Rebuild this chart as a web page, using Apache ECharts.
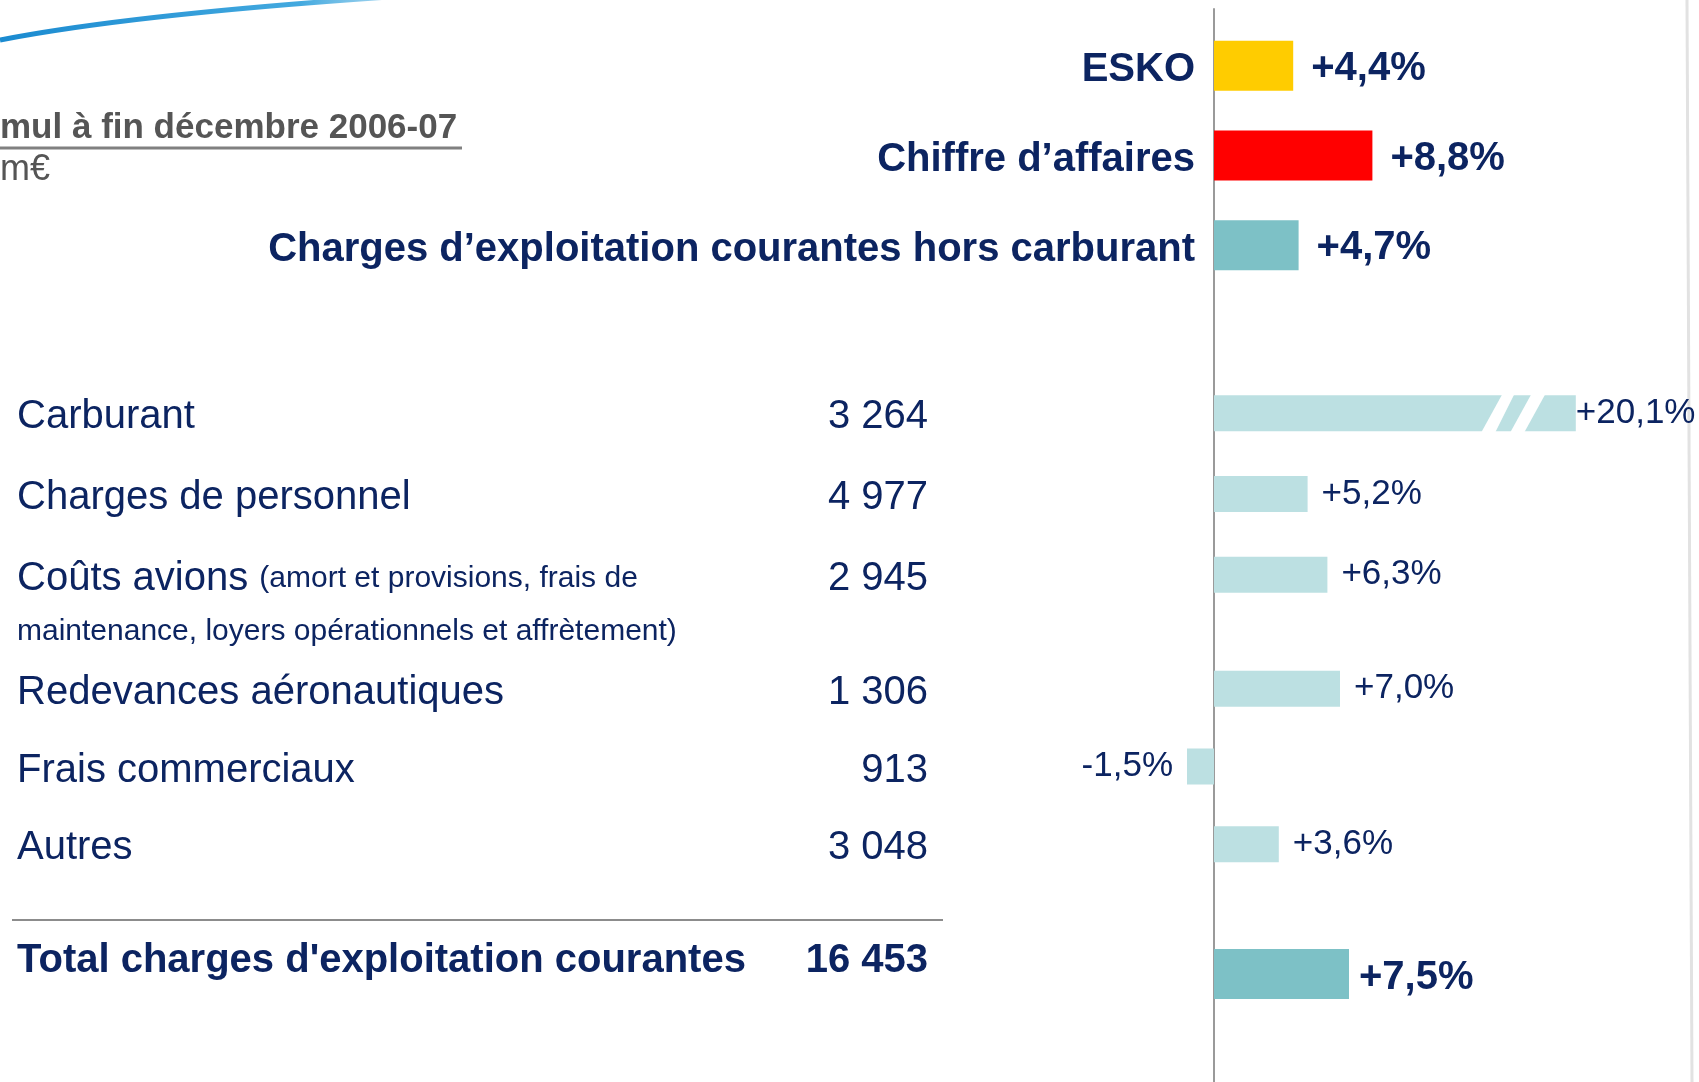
<!DOCTYPE html>
<html>
<head>
<meta charset="utf-8">
<title>Charges d'exploitation courantes</title>
<script src="https://cdn.jsdelivr.net/npm/echarts@6/dist/echarts.min.js"></script>
<style>
  html, body { margin: 0; padding: 0; background: #fff; }
  #chart { width: 1699px; height: 1082px; }
</style>
</head>
<body>
<div id="chart"></div>
<script>
const headCats = ['ESKO', 'Chiffre d’affaires', 'Charges d’exploitation courantes hors carburant'];
const headGrowth = [4.4, 8.8, 4.7];

const costCats = ['Carburant', 'Charges de personnel', 'Coûts avions', 'Redevances aéronautiques', 'Frais commerciaux', 'Autres'];
const costAmounts = [3264, 4977, 2945, 1306, 913, 3048];
const costGrowth = [20.1, 5.2, 6.3, 7.0, -1.5, 3.6];
const costNoteCat = 'Coûts avions';
const costNote = ['(amort et provisions, frais de', 'maintenance, loyers opérationnels et affrètement)'];

const totalCats = ["Total charges d'exploitation courantes"];
const totalAmounts = [16453];
const totalGrowth = [7.5];

// styles
const NAVY = '#0c2461';
const FONT = '"Liberation Sans", Arial, sans-serif';
const headColors = ['#ffcc00', '#ff0000', '#7dc1c6'];
const LIGHT = '#bce0e2';
const DARK = '#7dc1c6';
const LEFT = 1124;   // x = -5 %
const WIDTH = 540;   // 18 px par point de %
const X_MIN = -5;
const X_MAX = 25;

const fmtPct = v => (v > 0 ? '+' : '') + v.toFixed(1).replace('.', ',') + '%';
const fmtAmount = v => String(v).replace(/\B(?=(\d{3})+(?!\d))/g, ' ');

function nameLabel(v) {
  if (v !== costNoteCat) return '{name|' + v + '}';
  return '{gap| }\n{name|' + v + '} {note|' + costNote[0] + '}\n{note|' + costNote[1] + '}';
}

const tableRich = {
  name: { fontSize: 40, lineHeight: 53, color: NAVY, fontFamily: FONT },
  note: { fontSize: 30, lineHeight: 53, color: NAVY, fontFamily: FONT },
  gap: { fontSize: 30, lineHeight: 53 }
};

// libellés du tableau (total : texte un peu au-dessus de la barre)
function tableLabel(bold) {
  return {
    interval: 0, color: NAVY, fontFamily: FONT, fontSize: 40,
    fontWeight: bold ? 'bold' : 'normal',
    verticalAlign: bold ? 'bottom' : 'middle',
    lineHeight: bold ? 26 : undefined,
    padding: bold ? 0 : [8, 0, 0, 0],
    rich: bold ? undefined : tableRich
  };
}

function namesAxis(grid, cats, bold) {
  return {
    type: 'category', gridIndex: grid, data: cats, inverse: true, position: 'left',
    axisLine: { show: false, onZero: false }, axisTick: { show: false },
    axisLabel: Object.assign(tableLabel(bold), {
      align: 'left', margin: LEFT - 17,
      formatter: bold ? v => v : nameLabel
    })
  };
}

function amountsAxis(grid, cats, amounts, bold) {
  return {
    type: 'category', gridIndex: grid, data: cats, inverse: true, position: 'left',
    axisLine: { show: false, onZero: false }, axisTick: { show: false },
    axisLabel: Object.assign(tableLabel(bold), {
      align: 'right', margin: LEFT - 928,
      formatter: v => {
        const s = fmtAmount(amounts[cats.indexOf(v)]);
        return bold ? s : '{name|' + s + '}';
      }
    })
  };
}

function costBars(from, to, xi, yi) {
  return {
    type: 'bar', xAxisIndex: xi, yAxisIndex: yi, barWidth: 36,
    itemStyle: { color: LIGHT },
    data: costGrowth.slice(from, to).map((v, i) => {
      if (v < 0) return { value: v, label: { position: 'left' } };
      if (from + i === 0) return { value: v, label: { distance: 0 } }; // barre coupée
      return v;
    }),
    label: {
      show: true, position: 'right', distance: 14,
      fontSize: 35, color: NAVY, fontFamily: FONT,
      formatter: p => fmtPct(p.value)
    }
  };
}

const grids = [
  { top: 9, bottom: 0 },       // cadre : ligne du zéro
  { top: 21, height: 269 },    // ESKO / CA / hors carburant
  { top: 373, height: 242 },   // carburant -> coûts avions
  { top: 650, height: 233 },   // redevances -> autres
  { top: 934, height: 80 }     // total
].map(g => Object.assign({ left: LEFT, width: WIDTH, outerBoundsMode: 'none' }, g));

const option = {
  animation: false,
  backgroundColor: '#fff',
  grid: grids,
  xAxis: grids.map((g, i) => ({ type: 'value', gridIndex: i, min: X_MIN, max: X_MAX, show: false })),
  yAxis: [
    {
      type: 'value', gridIndex: 0, min: 0, max: 1,
      axisLine: { show: true, onZero: true, lineStyle: { color: '#9a9a9a', width: 2 } },
      axisTick: { show: false }, axisLabel: { show: false }, splitLine: { show: false }
    },
    {
      type: 'category', gridIndex: 1, data: headCats, inverse: true, position: 'left',
      axisLine: { show: false, onZero: false }, axisTick: { show: false },
      axisLabel: {
        interval: 0, margin: LEFT - 1195, align: 'right', verticalAlign: 'top', lineHeight: 9,
        color: NAVY, fontFamily: FONT, fontSize: 40, fontWeight: 'bold'
      }
    },
    namesAxis(2, costCats.slice(0, 3), false),
    amountsAxis(2, costCats.slice(0, 3), costAmounts.slice(0, 3), false),
    namesAxis(3, costCats.slice(3), false),
    amountsAxis(3, costCats.slice(3), costAmounts.slice(3), false),
    namesAxis(4, totalCats, true),
    amountsAxis(4, totalCats, totalAmounts, true)
  ],
  series: [
    {
      type: 'bar', xAxisIndex: 1, yAxisIndex: 1, barWidth: 50,
      data: headGrowth.map((v, i) => ({ value: v, itemStyle: { color: headColors[i] } })),
      label: {
        show: true, position: 'right', distance: 18, offset: [0, 3],
        fontSize: 40, fontWeight: 'bold', color: NAVY, fontFamily: FONT,
        formatter: p => fmtPct(p.value)
      }
    },
    costBars(0, 3, 2, 2),
    costBars(3, 6, 3, 4),
    {
      // barre du carburant coupée (deux traits blancs obliques)
      type: 'custom', xAxisIndex: 2, yAxisIndex: 2, z: 3, silent: true,
      data: [[costGrowth[0], costCats[0]]],
      renderItem: (params, api) => {
        const end = api.coord([api.value(0), api.value(1)]);
        const h = 20;
        const cut = (b0, b1, t0, t1) => ({
          type: 'polygon',
          shape: { points: [
            [end[0] - b0, end[1] + h], [end[0] - b1, end[1] + h],
            [end[0] - t1, end[1] - h], [end[0] - t0, end[1] - h]
          ] },
          style: { fill: '#fff' }
        });
        return { type: 'group', children: [cut(95, 81, 73, 61), cut(66, 52, 44, 30)] };
      }
    },
    {
      type: 'bar', xAxisIndex: 4, yAxisIndex: 6, barWidth: 50,
      itemStyle: { color: DARK },
      data: totalGrowth,
      label: {
        show: true, position: 'right', distance: 10, offset: [0, 4],
        fontSize: 40, fontWeight: 'bold', color: NAVY, fontFamily: FONT,
        formatter: p => fmtPct(p.value)
      }
    }
  ],
  graphic: [
    {
      type: 'bezierCurve', silent: true,
      shape: { x1: 0, y1: 40, cpx1: 180, cpy1: 5, x2: 600, y2: -15 },
      style: {
        fill: null, lineWidth: 5,
        stroke: { type: 'linear', x: 0, y: 0, x2: 1, y2: 0, colorStops: [
          { offset: 0, color: '#1a8ad0' }, { offset: 0.5, color: '#43a9df' }, { offset: 1, color: 'rgba(255,255,255,0)' }
        ] }
      }
    },
    {
      type: 'text', x: 0, y: 128, silent: true,
      style: { text: 'mul à fin décembre 2006-07', font: 'bold 35px ' + FONT, fill: '#555', verticalAlign: 'middle' }
    },
    { type: 'line', silent: true, shape: { x1: 0, y1: 148, x2: 462, y2: 148 }, style: { stroke: '#808080', lineWidth: 3 } },
    {
      type: 'text', x: 0, y: 170, silent: true,
      style: { text: 'm€', font: '36px ' + FONT, fill: '#555', verticalAlign: 'middle' }
    },
    { type: 'line', silent: true, shape: { x1: 12, y1: 920, x2: 943, y2: 920 }, style: { stroke: '#8c8c8c', lineWidth: 2 } },
    { type: 'line', silent: true, shape: { x1: 1687, y1: 0, x2: 1692, y2: 1082 }, style: { stroke: '#e2e2e2', lineWidth: 3 } }
  ]
};

const myChart = echarts.init(document.getElementById('chart'));
myChart.setOption(option);
window.addEventListener('resize', () => {
  myChart.resize();
});
</script>
</body>
</html>
